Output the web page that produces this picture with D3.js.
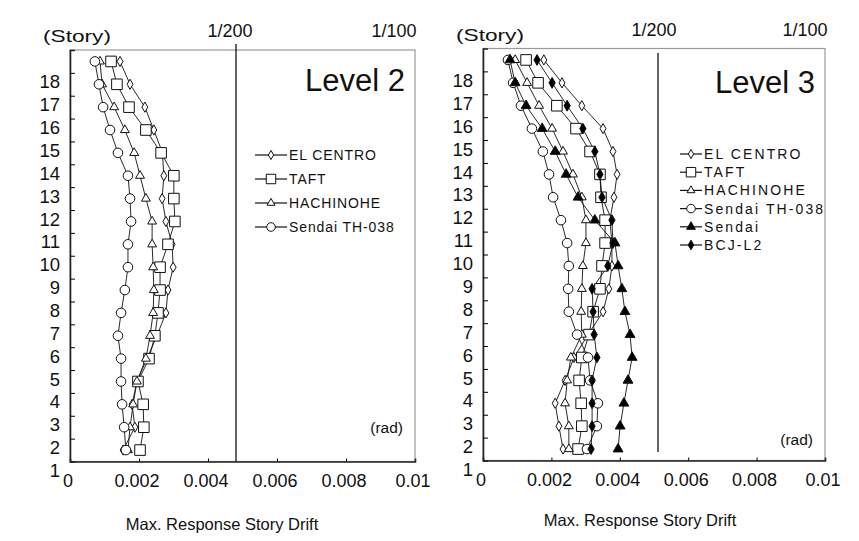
<!DOCTYPE html>
<html>
<head>
<meta charset="utf-8">
<script src="https://cdn.jsdelivr.net/npm/d3@7"></script>
<style>
  body { margin: 0; background: #fff; }
  svg { display: block; font-family: "Liberation Sans", Arial, sans-serif; }
</style>
</head>
<body>
<svg id="chart"></svg>
<script>
const width = 859,
    height = 541;

// ---- data ----
const stories = [1, 2, 3, 4, 5, 6, 7, 8, 9, 10, 11, 12, 13, 14, 15, 16, 17, 18];
const xTicks = [0, 0.002, 0.004, 0.006, 0.008, 0.01];
const xTickLabels = ["0", "0.002", "0.004", "0.006", "0.008", "0.01"];
const limitValues = [0.005, 0.01];
const limitLabels = ["1/200", "1/100"];
const seriesNames = ["EL CENTRO", "TAFT", "HACHINOHE", "Sendai TH-038", "Sendai", "BCJ-L2"];

// Level 2, story 1..18
const level2ElCentro = [0.00154, 0.00188, 0.0018, 0.00194, 0.00223, 0.00252, 0.00278, 0.00284, 0.00299, 0.00296, 0.00278, 0.00267, 0.00272, 0.00268, 0.00243, 0.00217, 0.00174, 0.00145];
const level2Taft = [0.00203, 0.00214, 0.00212, 0.00197, 0.00229, 0.00246, 0.00255, 0.00261, 0.00261, 0.00284, 0.00304, 0.00301, 0.00301, 0.00264, 0.0022, 0.00171, 0.00136, 0.00119];
const level2Hachinohe = [0.00168, 0.00174, 0.00183, 0.00194, 0.0022, 0.00232, 0.00241, 0.00243, 0.00241, 0.00238, 0.00238, 0.0022, 0.00203, 0.00186, 0.00159, 0.00128, 0.00093, 0.00087];
const level2SendaiTH = [0.00162, 0.00157, 0.00151, 0.00148, 0.00148, 0.00139, 0.00148, 0.00159, 0.00168, 0.00168, 0.00177, 0.00174, 0.00168, 0.00139, 0.00116, 0.00096, 0.00084, 0.00072];

// Level 3, story 1..18
const level3ElCentro = [0.00234, 0.00222, 0.00211, 0.0024, 0.00266, 0.00307, 0.00351, 0.00368, 0.00377, 0.00377, 0.00371, 0.00383, 0.00392, 0.0038, 0.00351, 0.00289, 0.00231, 0.00178];
const level3Taft = [0.00278, 0.00289, 0.00287, 0.00281, 0.00289, 0.0031, 0.00322, 0.00342, 0.00348, 0.00357, 0.00357, 0.00345, 0.00342, 0.00313, 0.00272, 0.00216, 0.00161, 0.00126];
const level3Hachinohe = [0.00251, 0.00251, 0.0024, 0.00246, 0.00257, 0.00289, 0.00287, 0.00289, 0.00292, 0.00301, 0.00301, 0.00289, 0.00263, 0.00234, 0.00202, 0.00164, 0.00129, 0.00094];
const level3SendaiTH = [0.00304, 0.00333, 0.00336, 0.00313, 0.00307, 0.00275, 0.00251, 0.00249, 0.00251, 0.00246, 0.00228, 0.00205, 0.00193, 0.00175, 0.00143, 0.00111, 0.00088, 0.00073];
const level3Sendai = [0.00395, 0.00401, 0.00412, 0.00424, 0.00436, 0.0043, 0.00415, 0.00406, 0.00395, 0.00386, 0.00327, 0.00278, 0.00243, 0.00211, 0.00173, 0.00126, 0.00094, 0.00079];
const level3Bcj = [0.00316, 0.00319, 0.00319, 0.00319, 0.00333, 0.00325, 0.00322, 0.00319, 0.00365, 0.0038, 0.00377, 0.00348, 0.00342, 0.00327, 0.00292, 0.00246, 0.00202, 0.00158];

// ---- marker styles ----
const markerStyles = [
    { symbol: d3.symbolDiamond, size: 30, fill: "#fff" },
    { symbol: d3.symbolSquare, size: 112, fill: "#fff" },
    { symbol: d3.symbolTriangle, size: 34, fill: "#fff" },
    { symbol: d3.symbolCircle, size: 72, fill: "#fff" },
    { symbol: d3.symbolTriangle, size: 42, fill: "#000" },
    { symbol: d3.symbolDiamond, size: 34, fill: "#000" },
];

const svg = d3.select("#chart").attr("width", width).attr("height", height);

const drawPanel = (cfg) => {
    const xScale = d3.scaleLinear().domain([0, 0.01]).range([cfg.left, cfg.right]);
    const yScale = d3.scaleLinear().domain([0.5, 18.5]).range([cfg.bottom, cfg.top]);
    const topScale = d3.scaleLinear().domain([0, 0.01]).range([cfg.left, cfg.topRight]);
    const g = svg.append("g");

    // frame
    g.append("rect")
        .attr("x", cfg.left)
        .attr("y", cfg.top)
        .attr("width", cfg.right - cfg.left)
        .attr("height", cfg.bottom - cfg.top)
        .attr("fill", "none")
        .attr("stroke", "#999")
        .attr("stroke-width", 1.2);

    // y axis (ticks on floor boundaries, pointing inward)
    const yAxis = d3
        .axisRight(yScale)
        .tickValues(stories.slice(0, 17).map((s) => s + 0.5))
        .tickSize(5)
        .tickFormat("");
    g.append("g").attr("transform", `translate(${cfg.left},0)`).call(yAxis)
        .call((a) => a.select(".domain").attr("stroke", "#222").attr("stroke-width", 1.6));

    // x axis
    const xAxis = d3.axisTop(xScale).tickValues(xTicks.slice(1, 5)).tickSize(3).tickFormat("");
    g.append("g").attr("transform", `translate(0,${cfg.bottom})`).call(xAxis)
        .call((a) => a.select(".domain").attr("stroke", "#222").attr("stroke-width", 1.6));

    // x tick labels
    g.selectAll(".xlab")
        .data(xTicks)
        .enter()
        .append("text")
        .attr("x", (d) => xScale(d) - 2)
        .attr("y", cfg.bottom + 25)
        .attr("text-anchor", "middle")
        .attr("font-size", 18)
        .attr("fill", "#111")
        .text((d, i) => xTickLabels[i]);

    // story labels
    g.selectAll(".ylab")
        .data(stories)
        .enter()
        .append("text")
        .attr("x", cfg.left - 10)
        .attr("y", (d) => yScale(d) + 27)
        .attr("text-anchor", "end")
        .attr("font-size", 18.5)
        .attr("fill", "#111")
        .text((d) => d);

    g.append("text")
        .attr("x", cfg.left - 27)
        .attr("y", cfg.top - 8)
        .attr("font-size", 17)
        .attr("textLength", 68)
        .attr("lengthAdjust", "spacingAndGlyphs")
        .attr("fill", "#111")
        .text("(Story)");

    // 1/200 line and limit labels
    g.append("line")
        .attr("x1", topScale(limitValues[0]))
        .attr("x2", topScale(limitValues[0]))
        .attr("y1", cfg.lineTop)
        .attr("y2", cfg.lineBottom)
        .attr("stroke", "#111")
        .attr("stroke-width", 1.3);

    g.selectAll(".lim")
        .data(limitValues)
        .enter()
        .append("text")
        .attr("x", (d, i) => topScale(d) + cfg.limitDx[i])
        .attr("y", cfg.top - 13)
        .attr("text-anchor", "middle")
        .attr("font-size", 18)
        .attr("fill", "#111")
        .text((d, i) => limitLabels[i]);

    // series
    const line = d3
        .line()
        .x((d) => xScale(d.v))
        .y((d) => yScale(d.s));

    const series = cfg.series.map((vals, i) => ({
        name: seriesNames[i],
        style: markerStyles[i],
        points: vals.map((v, j) => ({ v: v, s: stories[j] })),
    }));

    g.selectAll(".series-line")
        .data(series)
        .enter()
        .append("path")
        .attr("d", (d) => line(d.points))
        .attr("fill", "none")
        .attr("stroke", "#111")
        .attr("stroke-width", 0.9);

    series.forEach((s) => {
        g.selectAll(null)
            .data(s.points)
            .enter()
            .append("path")
            .attr("d", d3.symbol().type(s.style.symbol).size(s.style.size))
            .attr("transform", (d) => `translate(${xScale(d.v)},${yScale(d.s)})`)
            .attr("fill", s.style.fill)
            .attr("stroke", "#111")
            .attr("stroke-width", 1);
    });

    // level title
    g.append("text")
        .attr("x", cfg.right - 10)
        .attr("y", cfg.titleY)
        .attr("text-anchor", "end")
        .attr("font-size", 31)
        .attr("fill", "#111")
        .text(cfg.title);

    // legend
    const leg = g
        .selectAll(".leg")
        .data(series)
        .enter()
        .append("g")
        .attr("transform", (d, i) => `translate(${cfg.legX},${cfg.legY + i * cfg.legStep})`);
    leg.append("line")
        .attr("x1", 0)
        .attr("x2", cfg.legLine)
        .attr("stroke", "#111")
        .attr("stroke-width", 1.2);
    leg.append("path")
        .attr("d", (d) => d3.symbol().type(d.style.symbol).size(d.style.size * 0.8)())
        .attr("transform", `translate(${cfg.legLine / 2},0)`)
        .attr("fill", (d) => d.style.fill)
        .attr("stroke", "#111");
    leg.append("text")
        .attr("x", cfg.legLine + 2)
        .attr("y", 5)
        .attr("font-size", 14)
        .attr("letter-spacing", cfg.legSpacing)
        .attr("fill", "#111")
        .text((d) => d.name);

    // unit
    g.append("text")
        .attr("x", cfg.right - 12)
        .attr("y", cfg.radY)
        .attr("text-anchor", "end")
        .attr("font-size", 15.5)
        .attr("fill", "#111")
        .text("(rad)");

    // axis title
    g.append("text")
        .attr("x", cfg.titleX)
        .attr("y", cfg.axisTitleY)
        .attr("text-anchor", "middle")
        .attr("font-size", 16.5)
        .attr("fill", "#111")
        .text("Max. Response Story Drift");
};

drawPanel({
    left: 70, right: 415, top: 50, bottom: 461.5, topRight: 402,
    lineTop: 44, lineBottom: 461.5, limitDx: [-6, -8],
    title: "Level 2", titleY: 91, radY: 433, titleX: 222, axisTitleY: 530,
    legX: 255, legY: 155, legStep: 24, legLine: 32, legSpacing: 0.9,
    series: [level2ElCentro, level2Taft, level2Hachinohe, level2SendaiTH],
});

drawPanel({
    left: 483, right: 825, top: 48.5, bottom: 460.5, topRight: 833,
    lineTop: 53, lineBottom: 452, limitDx: [-4, -28],
    title: "Level 3", titleY: 93, radY: 445, titleX: 640, axisTitleY: 526,
    legX: 680, legY: 154, legStep: 18.2, legLine: 22, legSpacing: 2.1,
    series: [level3ElCentro, level3Taft, level3Hachinohe, level3SendaiTH, level3Sendai, level3Bcj],
});
</script>
</body>
</html>
